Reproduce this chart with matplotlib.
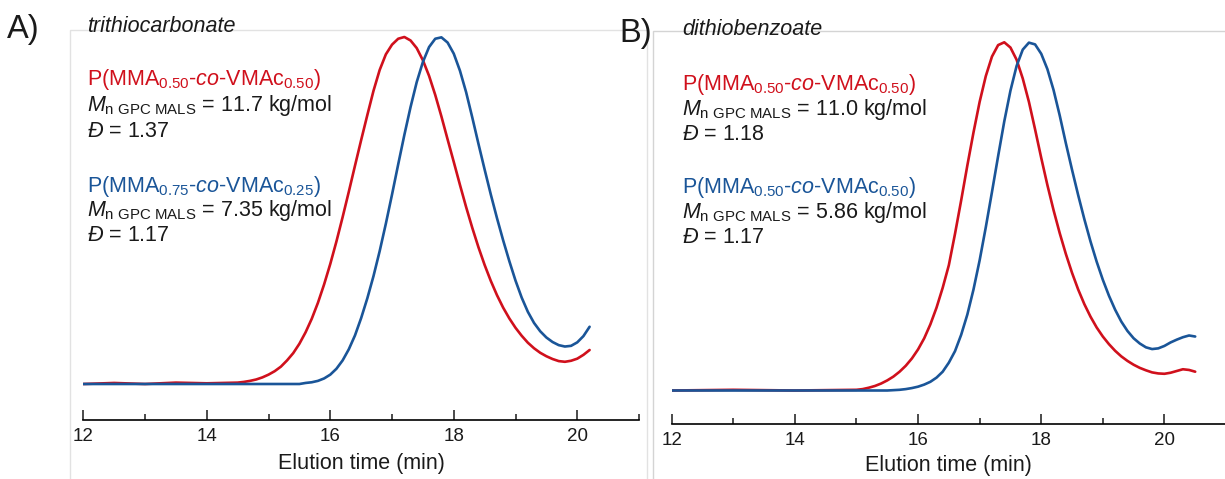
#gpc traces, two raft agents
import numpy as np
import matplotlib
matplotlib.use('Agg')
import matplotlib.pyplot as plt
from matplotlib.patches import Rectangle
from matplotlib.ticker import MultipleLocator

plt.rcParams['font.family'] = ['Liberation Sans', 'DejaVu Sans']
plt.rcParams['mathtext.fontset'] = 'custom'
plt.rcParams['mathtext.rm'] = 'Liberation Sans'
plt.rcParams['mathtext.it'] = 'Liberation Sans:italic'

RED = '#d0101c'
BLUE = '#1a5598'
INK = '#1a1a1a'

# panel A, trithiocarbonate (normalised detector signal)
t_a_red = [12.0, 12.5, 13.0, 13.5, 14.0, 14.5, 14.6, 14.7, 14.8, 14.9,
           15.0, 15.1, 15.2, 15.3, 15.4, 15.5, 15.6, 15.7, 15.8, 15.9,
           16.0, 16.1, 16.2, 16.3, 16.4, 16.5, 16.6, 16.7, 16.8, 16.9,
           17.0, 17.1, 17.2, 17.3, 17.4, 17.5, 17.6, 17.7, 17.8, 17.9,
           18.0, 18.1, 18.2, 18.3, 18.4, 18.5, 18.6, 18.7, 18.8, 18.9,
           19.0, 19.1, 19.2, 19.3, 19.4, 19.5, 19.6, 19.7, 19.8, 19.9,
           20.0, 20.1, 20.2]
i_a_red = [0.0, 0.003, 0.0, 0.004, 0.002, 0.004, 0.006, 0.009, 0.013, 0.019,
           0.027, 0.037, 0.050, 0.068, 0.089, 0.116, 0.149, 0.188, 0.234, 0.287,
           0.346, 0.411, 0.481, 0.554, 0.629, 0.703, 0.775, 0.845, 0.905, 0.95,
           0.978, 0.995, 1.0, 0.99, 0.968, 0.933, 0.888, 0.833, 0.771, 0.705,
           0.64, 0.574, 0.51, 0.45, 0.394, 0.343, 0.297, 0.256, 0.22, 0.189,
           0.162, 0.139, 0.119, 0.103, 0.09, 0.08, 0.072, 0.066, 0.064, 0.067,
           0.073, 0.084, 0.098]
t_a_blue = [12.0, 13.0, 14.0, 15.0, 15.5, 15.6, 15.7, 15.8, 15.9,
            16.0, 16.1, 16.2, 16.3, 16.4, 16.5, 16.6, 16.7, 16.8, 16.9,
            17.0, 17.1, 17.2, 17.3, 17.4, 17.5, 17.6, 17.7, 17.8, 17.9,
            18.0, 18.1, 18.2, 18.3, 18.4, 18.5, 18.6, 18.7, 18.8, 18.9,
            19.0, 19.1, 19.2, 19.3, 19.4, 19.5, 19.6, 19.7, 19.8, 19.9,
            20.0, 20.1, 20.2]
i_a_blue = [0.0, 0.0, 0.0, 0.0, 0.0, 0.003, 0.005, 0.009, 0.016,
            0.027, 0.044, 0.068, 0.1, 0.14, 0.19, 0.247, 0.311, 0.383, 0.462,
            0.546, 0.633, 0.718, 0.798, 0.87, 0.928, 0.971, 0.995, 0.999, 0.984,
            0.952, 0.903, 0.841, 0.768, 0.692, 0.618, 0.546, 0.478, 0.414, 0.354,
            0.298, 0.249, 0.208, 0.176, 0.152, 0.134, 0.121, 0.112, 0.108, 0.11,
            0.12, 0.138, 0.165]

# panel B, dithiobenzoate
t_b_red = [12.0, 13.0, 14.0, 14.5, 15.0, 15.1, 15.2, 15.3, 15.4, 15.5,
           15.6, 15.7, 15.8, 15.9, 16.0, 16.1, 16.2, 16.3, 16.4, 16.5,
           16.6, 16.7, 16.8, 16.9, 17.0, 17.1, 17.2, 17.3, 17.4, 17.5,
           17.6, 17.7, 17.8, 17.9, 18.0, 18.1, 18.2, 18.3, 18.4, 18.5,
           18.6, 18.7, 18.8, 18.9, 19.0, 19.1, 19.2, 19.3, 19.4, 19.5,
           19.6, 19.7, 19.8, 19.9, 20.0, 20.1, 20.2, 20.3, 20.4, 20.5]
i_b_red = [0.0, 0.002, 0.0, 0.001, 0.002, 0.004, 0.008, 0.013, 0.02, 0.029,
           0.04, 0.054, 0.071, 0.092, 0.118, 0.15, 0.19, 0.238, 0.295, 0.36,
           0.45, 0.546, 0.646, 0.741, 0.829, 0.903, 0.959, 0.992, 1.0, 0.985,
           0.95, 0.896, 0.829, 0.75, 0.668, 0.59, 0.518, 0.452, 0.392, 0.338,
           0.29, 0.248, 0.212, 0.181, 0.155, 0.133, 0.114, 0.098, 0.085, 0.074,
           0.065, 0.058, 0.052, 0.049, 0.048, 0.051, 0.056, 0.061, 0.059, 0.054]
t_b_blue = [12.0, 13.0, 14.0, 15.0, 15.5, 15.6, 15.7, 15.8, 15.9,
            16.0, 16.1, 16.2, 16.3, 16.4, 16.5, 16.6, 16.7, 16.8, 16.9,
            17.0, 17.1, 17.2, 17.3, 17.4, 17.5, 17.6, 17.7, 17.8, 17.9,
            18.0, 18.1, 18.2, 18.3, 18.4, 18.5, 18.6, 18.7, 18.8, 18.9,
            19.0, 19.1, 19.2, 19.3, 19.4, 19.5, 19.6, 19.7, 19.8, 19.9,
            20.0, 20.1, 20.2, 20.3, 20.4, 20.5]
i_b_blue = [0.0, 0.0, 0.0, 0.0, 0.0, 0.001, 0.002, 0.004, 0.007,
            0.011, 0.017, 0.025, 0.037, 0.054, 0.08, 0.113, 0.16, 0.218, 0.29,
            0.374, 0.469, 0.57, 0.673, 0.773, 0.861, 0.932, 0.979, 0.999, 0.994,
            0.967, 0.923, 0.863, 0.79, 0.71, 0.634, 0.561, 0.492, 0.428, 0.37,
            0.318, 0.272, 0.232, 0.198, 0.171, 0.15, 0.135, 0.124, 0.119, 0.121,
            0.128, 0.138, 0.146, 0.153, 0.158, 0.155]

x_ticks = [12, 14, 16, 18, 20]

labels_a = [
    (r'P(MMA$_{0.50}$-$\mathit{co}$-VMAc$_{0.50}$)', RED),
    (r'$\mathit{M}_{\mathrm{n\ GPC\ MALS}}$ = 11.7 kg/mol', INK),
    (r'$\mathit{Đ}$ = 1.37', INK),
    (r'P(MMA$_{0.75}$-$\mathit{co}$-VMAc$_{0.25}$)', BLUE),
    (r'$\mathit{M}_{\mathrm{n\ GPC\ MALS}}$ = 7.35 kg/mol', INK),
    (r'$\mathit{Đ}$ = 1.17', INK),
]
labels_b = [
    (r'P(MMA$_{0.50}$-$\mathit{co}$-VMAc$_{0.50}$)', RED),
    (r'$\mathit{M}_{\mathrm{n\ GPC\ MALS}}$ = 11.0 kg/mol', INK),
    (r'$\mathit{Đ}$ = 1.18', INK),
    (r'P(MMA$_{0.50}$-$\mathit{co}$-VMAc$_{0.50}$)', BLUE),
    (r'$\mathit{M}_{\mathrm{n\ GPC\ MALS}}$ = 5.86 kg/mol', INK),
    (r'$\mathit{Đ}$ = 1.17', INK),
]

W, H = 1225, 479
fig = plt.figure(figsize=(W / 100, H / 100), dpi=100)


def px(x, y):
    # figure pixels (from top left) -> figure fraction
    return x / W, 1 - y / H


def frame(x0, y0, x1, y1, col):
    fx, fy = px(x0, y1)
    fig.add_artist(Rectangle((fx, fy), (x1 - x0) / W, (y1 - y0) / H, transform=fig.transFigure,
                             fill=False, edgecolor=col, linewidth=1.0))


def panel(x0, x1, ytop, yaxis, ylim, curves, label_y):
    fx, fy = px(x0, yaxis)
    ax = fig.add_axes([fx, fy, (x1 - x0) / W, (yaxis - ytop) / H])
    ax.set_facecolor('none')
    for t, i, c in curves:
        ax.plot(t, i, color=c, linewidth=1.9, solid_joinstyle='round', solid_capstyle='round')
    ax.set_xlim(12, 21)
    ax.set_ylim(*ylim)
    for s in ['top', 'left', 'right']:
        ax.spines[s].set_visible(False)
    ax.spines['bottom'].set_linewidth(1.2)
    ax.set_yticks([])
    ax.set_xticks(x_ticks)
    ax.xaxis.set_minor_locator(MultipleLocator(1))
    ax.tick_params(axis='x', which='major', direction='in', length=7.2, width=1.1,
                   labelsize=13.5, pad=6, colors=INK)
    ax.tick_params(axis='x', which='minor', direction='in', length=4.3, width=1.1, colors=INK)
    ax.set_xlabel('Elution time (min)', fontsize=15.5, color=INK)
    ax.xaxis.set_label_coords(0.5, label_y)
    return ax


def text_block(x, ys, lines):
    for y, (s, c) in zip(ys, lines):
        fig.text(*px(x, y), s, fontsize=15.5, color=c, va='baseline', ha='left')


# light grey boxes round each panel
frame(70, 29.5, 646.7, 495, '#e2e2e2')
frame(653.3, 31, 1240, 495, '#d4d4d4')

panel(83.3, 639, 30, 420, ((384 - 420) / 347, (384 - 30) / 347),
      [(t_a_red, i_a_red, RED), (t_a_blue, i_a_blue, BLUE)], -0.085)
panel(671.7, 1226, 31, 423.7, ((390.5 - 423.7) / 348.2, (390.5 - 31) / 348.2),
      [(t_b_red, i_b_red, RED), (t_b_blue, i_b_blue, BLUE)], -0.08)

fig.text(*px(7, 38), 'A)', fontsize=23.5, color=INK, va='baseline')
fig.text(*px(619, 42), 'B)', fontsize=23.5, color=INK, va='baseline')
fig.text(*px(87, 32), 'trithiocarbonate', fontsize=15.5, style='italic', color=INK, va='baseline')
fig.text(*px(682, 35), 'dithiobenzoate', fontsize=15.5, style='italic', color=INK, va='baseline')

text_block(87, [85, 111, 137, 192, 216, 241], labels_a)
text_block(682, [90, 115, 140, 193, 218, 243], labels_b)

fig.savefig('out.png', dpi=100)
